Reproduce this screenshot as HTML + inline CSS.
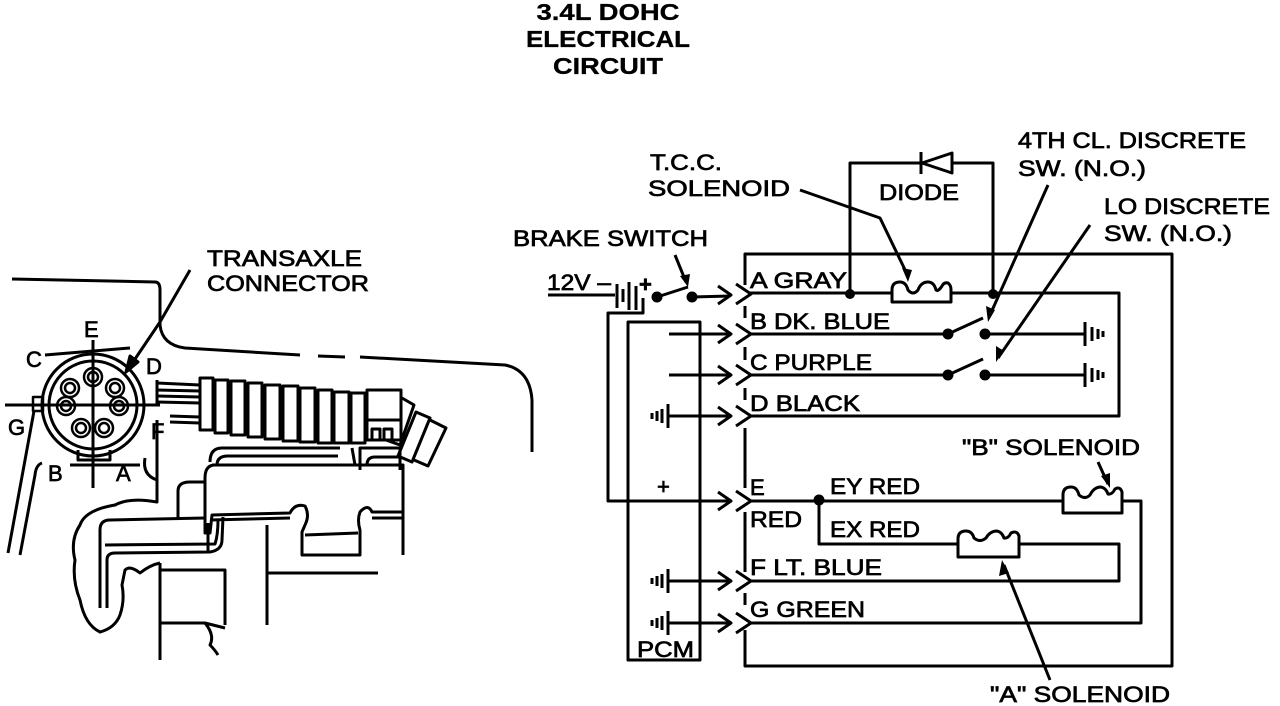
<!DOCTYPE html>
<html><head><meta charset="utf-8"><style>
html,body{margin:0;padding:0;background:#fff;}
svg{display:block;}
text{font-family:"Liberation Sans",sans-serif;font-size:22px;fill:#000;stroke:#000;stroke-width:0.7;}
.t{font-weight:bold;font-size:23px;stroke-width:0.3;}
</style></head><body>
<svg width="1280" height="706" viewBox="0 0 1280 706" xmlns="http://www.w3.org/2000/svg">
<g fill="none" stroke="#000" stroke-width="3" stroke-linejoin="round">
<path d="M12 279 L155 282 Q160 282 160 290 L160 325 Q162 345 185 348 L300 355"/>
<path d="M318 356 L345 357 M360 357 L505 365 Q530 370 532 400 L532 452"/>
<path d="M190 270 L160 322"/>
<path d="M160 322 L133 362"/>
<polygon points="126,372 130,356 138,362" fill="#000"/>
<circle cx="93" cy="405" r="51"/>
<circle cx="93" cy="405" r="44"/>
<path d="M45 355 L130 348"/>
<path d="M78 450 L78 460 L110 460 L110 450"/>
<line x1="93" y1="340" x2="93" y2="488"/>
<line x1="5" y1="405" x2="160" y2="405"/>
<line x1="70" y1="465" x2="140" y2="465"/>
<rect x="33" y="397" width="10" height="14" stroke-width="2.5"/>
<line x1="34" y1="411" x2="8" y2="553"/>
<path d="M42 463 Q36 465 35 475 L20 555"/>
<g stroke-width="2.5">
<circle cx="93" cy="377" r="9"/><circle cx="93" cy="377" r="5"/>
<circle cx="70" cy="388" r="9"/><circle cx="70" cy="388" r="5"/>
<circle cx="115" cy="388" r="9"/><circle cx="115" cy="388" r="5"/>
<circle cx="66" cy="406" r="9"/><circle cx="66" cy="406" r="5"/>
<circle cx="119" cy="406" r="9"/><circle cx="119" cy="406" r="5"/>
<circle cx="81" cy="428" r="9"/><circle cx="81" cy="428" r="5"/>
<circle cx="104" cy="428" r="9"/><circle cx="104" cy="428" r="5"/>
</g>
<line x1="89" y1="405" x2="97" y2="405" stroke-width="2"/>
<line x1="93" y1="401" x2="93" y2="409" stroke-width="2"/>
<line x1="157" y1="380" x2="157" y2="405"/>
<path d="M157 383 L200 385 M157 390 L200 391 M157 396 L200 397 M157 402 L200 403 M170 416 L200 417 M170 422 L200 423"/>
<rect x="200" y="378" width="13" height="52"/>
<rect x="215" y="380" width="13" height="53"/>
<rect x="231" y="381" width="14" height="54"/>
<rect x="248" y="383" width="14" height="54"/>
<rect x="265" y="385" width="15" height="54"/>
<rect x="283" y="386" width="15" height="55"/>
<rect x="300" y="388" width="15" height="54"/>
<rect x="318" y="390" width="14" height="53"/>
<rect x="334" y="392" width="15" height="51"/>
<rect x="351" y="393" width="14" height="50"/>
<rect x="367" y="390" width="34" height="30"/>
<path d="M367 420 L367 440 L401 440 L401 420"/>
<rect x="372" y="429" width="8" height="11"/><rect x="384" y="429" width="8" height="11"/>
<path d="M402 398 L414 405 L400 445 L386 440"/>
<path d="M416 412 L430 418 L412 462 L398 456 Z"/>
<path d="M430 420 L446 428 L428 466 L414 460"/>
<path d="M210 462 Q210 448 222 448 L340 448 M352 448 L355 465"/>
<path d="M217 465 Q217 456 228 456 L338 456"/>
<path d="M360 470 L360 448 L400 448 L400 470"/>
<path d="M367 465 Q367 457 375 457 L400 457"/>
<path d="M212 465 L403 465 L403 555"/>
<path d="M205 478 Q205 465 215 465"/>
<path d="M205 478 L205 533 L210 533 L212 515 L290 513 Q295 503 305 506 Q310 515 305 525 L302 532 L302 555 L360 555 L360 530 Q357 520 360 512 Q368 503 372 512 L403 512"/>
<path d="M210 520 L290 518 M305 535 L358 533 M372 518 L403 518"/>
<path d="M178 491 Q178 482 190 482 L205 482 M178 491 L178 518"/>
<path d="M205 518 L110 520 Q100 520 100 530 L100 608"/>
<path d="M107 608 L107 560 Q107 553 115 553 L210 552 Q222 550 222 540 L223 517"/>
<path d="M105 545 L215 544 Q218 535 218 520"/>
<path d="M157 420 L157 502 Q130 497 115 505 Q85 510 80 525 Q70 540 75 560 Q72 580 80 600 Q85 625 100 632 Q115 628 120 615 Q125 600 122 585 L125 570 Q130 565 140 573 Q150 565 160 563"/>
<path d="M145 458 Q142 475 157 480"/>
<path d="M160 563 L160 660 M160 570 L225 570 L225 625 M160 623 L205 623 Q215 635 210 645 Q215 650 218 655 M205 623 L225 628"/>
<path d="M267 525 L267 625 M267 573 L378 573"/>
<path d="M208 523 L208 552"/>
<path d="M745 285 L745 254 L1172 254 L1172 666 L745 666 L745 630"/>
<line x1="745" y1="428" x2="745" y2="488"/>
<line x1="745" y1="512" x2="745" y2="572"/>
<line x1="745" y1="306" x2="745" y2="318"/>
<line x1="745" y1="347" x2="745" y2="360"/>
<line x1="745" y1="388" x2="745" y2="400"/>
<line x1="745" y1="593" x2="745" y2="605"/>
<path d="M750 293 L893 293 M950 293 L1119 293 L1119 416 L750 416"/>
<path d="M850 293 L850 163 L993 163 L993 293"/>
<path d="M910 163 L950 163"/>
<polygon points="952,153 952,173 922,163" fill="#fff"/>
<line x1="921" y1="152" x2="921" y2="174"/>
<path d="M892 302 L892 290 Q892 282 900 282 Q906 282 908 290 Q913 296 918 290 Q921 282 928 282 Q934 282 936 290 Q938 292 942 286 Q944 282 948 283 Q951 285 951 290 L951 302 Z"/>
<path d="M750 334 L948 334 M948 334 L983 318 M985 334 L1085 334"/>
<path d="M750 375 L948 375 M948 375 L983 359 M985 375 L1085 375"/>
<path d="M1085 322 L1085 346 M1092 327 L1092 341 M1098 329 L1098 339 M1103 331 L1103 337"/>
<path d="M1085 363 L1085 387 M1092 368 L1092 382 M1098 370 L1098 380 M1103 372 L1103 378"/>
<path d="M750 501 L1063 501 M1122 501 L1141 501 L1141 623 L750 623"/>
<path d="M819 501 L819 544 L958 544 M1019 544 L1119 544 L1119 581 L750 581"/>
<path d="M1063 513 L1063 495 Q1063 487 1071 487 Q1077 487 1079 495 Q1085 500 1090 495 Q1094 487 1101 487 Q1106 488 1108 494 Q1112 495 1115 489 Q1120 486 1122 492 L1122 513 Z"/>
<path d="M958 557 L958 539 Q958 531 966 531 Q972 531 974 538 Q980 543 986 538 Q990 531 997 531 Q1002 532 1004 538 Q1008 539 1011 533 Q1017 530 1019 536 L1019 557 Z"/>
<path d="M548 295 L615 295"/>
<path d="M617 284 L617 308 M623 289 L623 302 M629 282 L629 310 M636 286 L636 310"/>
<path d="M643 298 L643 313 L608 313 L608 501 L730 501"/>
<path d="M657 297 L688 287 M692 297 L730 296"/>
<rect x="628" y="322" width="72" height="338"/>
<path d="M669 334 L730 334 M669 375 L730 375 M668 416 L730 416 M668 581 L730 581 M668 623 L730 623"/>
<path d="M668 404 L668 428 M662 409 L662 423 M657 411 L657 421 M652 413 L652 419"/>
<path d="M668 569 L668 593 M662 574 L662 588 M657 576 L657 586 M652 578 L652 584"/>
<path d="M668 611 L668 635 M662 616 L662 630 M657 618 L657 628 M652 620 L652 626"/>
<g>
<path d="M718 286 L731 295 L718 304"/>
<path d="M718 325 L731 334 L718 343"/>
<path d="M718 366 L731 375 L718 384"/>
<path d="M718 407 L731 416 L718 425"/>
<path d="M718 492 L731 501 L718 510"/>
<path d="M718 572 L731 581 L718 590"/>
<path d="M718 614 L731 623 L718 632"/>
</g>
<g>
<path d="M736 284 L751 294 L736 304"/>
<path d="M736 324 L751 334 L736 344"/>
<path d="M736 365 L751 375 L736 385"/>
<path d="M736 406 L751 416 L736 426"/>
<path d="M736 491 L751 501 L736 511"/>
<path d="M736 571 L751 581 L736 591"/>
<path d="M736 613 L751 623 L736 633"/>
</g>
<path d="M800 190 L880 218 L908 276"/>
<path d="M675 255 L686 282"/>
<path d="M1048 185 L990 315"/>
<path d="M1090 225 L998 358"/>
<path d="M1098 462 L1108 484"/>
<path d="M1050 680 L1004 565"/>
</g>
<g fill="#000">
<circle cx="850" cy="294" r="5"/><circle cx="993" cy="294" r="5"/>
<circle cx="948" cy="334" r="5.5"/><circle cx="985" cy="334" r="5.5"/>
<circle cx="948" cy="375" r="5.5"/><circle cx="985" cy="375" r="5.5"/>
<circle cx="819" cy="500" r="5.5"/>
<circle cx="657" cy="297" r="5.5"/><circle cx="692" cy="297" r="5.5"/>
<polygon points="908,282 902,268 912,270"/>
<polygon points="688,287 680,276 690,274"/>
<polygon points="988,322 986,306 995,310"/>
<polygon points="996,362 996,346 1004,351"/>
<polygon points="1110,488 1101,476 1110,473"/>
<polygon points="1002,560 999,576 1009,573"/>
</g>
<text class="t" x="608" y="20" text-anchor="middle" textLength="143" lengthAdjust="spacingAndGlyphs">3.4L DOHC</text>
<text class="t" x="608" y="47" text-anchor="middle" textLength="164" lengthAdjust="spacingAndGlyphs">ELECTRICAL</text>
<text class="t" x="608" y="74" text-anchor="middle" textLength="110" lengthAdjust="spacingAndGlyphs">CIRCUIT</text>
<text x="207" y="266" textLength="155" lengthAdjust="spacingAndGlyphs">TRANSAXLE</text>
<text x="207" y="291" textLength="162" lengthAdjust="spacingAndGlyphs">CONNECTOR</text>
<text x="84" y="337">E</text>
<text x="26" y="367">C</text>
<text x="146" y="374">D</text>
<text x="8" y="435">G</text>
<text x="151" y="439">F</text>
<text x="48" y="481">B</text>
<text x="116" y="481">A</text>
<text x="650" y="170" textLength="72" lengthAdjust="spacingAndGlyphs">T.C.C.</text>
<text x="648" y="196" textLength="142" lengthAdjust="spacingAndGlyphs">SOLENOID</text>
<text x="879" y="200" textLength="80" lengthAdjust="spacingAndGlyphs">DIODE</text>
<text x="1018" y="148" textLength="228" lengthAdjust="spacingAndGlyphs">4TH CL. DISCRETE</text>
<text x="1018" y="176" textLength="128" lengthAdjust="spacingAndGlyphs">SW. (N.O.)</text>
<text x="1104" y="214" textLength="166" lengthAdjust="spacingAndGlyphs">LO DISCRETE</text>
<text x="1104" y="241" textLength="128" lengthAdjust="spacingAndGlyphs">SW. (N.O.)</text>
<text x="513" y="246" textLength="195" lengthAdjust="spacingAndGlyphs">BRAKE SWITCH</text>
<text x="547" y="290" textLength="64" lengthAdjust="spacingAndGlyphs">12V –</text>
<text x="639" y="292" style="font-weight:bold">+</text>
<text x="750" y="288" textLength="97" lengthAdjust="spacingAndGlyphs">A GRAY</text>
<text x="750" y="329" textLength="140" lengthAdjust="spacingAndGlyphs">B DK. BLUE</text>
<text x="750" y="370" textLength="122" lengthAdjust="spacingAndGlyphs">C PURPLE</text>
<text x="750" y="411" textLength="110" lengthAdjust="spacingAndGlyphs">D BLACK</text>
<text x="750" y="495">E</text>
<text x="750" y="527" textLength="52" lengthAdjust="spacingAndGlyphs">RED</text>
<text x="830" y="494" textLength="90" lengthAdjust="spacingAndGlyphs">EY RED</text>
<text x="830" y="537" textLength="90" lengthAdjust="spacingAndGlyphs">EX RED</text>
<text x="750" y="575" textLength="132" lengthAdjust="spacingAndGlyphs">F LT. BLUE</text>
<text x="750" y="617" textLength="115" lengthAdjust="spacingAndGlyphs">G GREEN</text>
<text x="962" y="455" textLength="178" lengthAdjust="spacingAndGlyphs">"B" SOLENOID</text>
<text x="990" y="702" textLength="180" lengthAdjust="spacingAndGlyphs">"A" SOLENOID</text>
<text x="637" y="657" textLength="57" lengthAdjust="spacingAndGlyphs">PCM</text>
<text x="657" y="494">+</text>
</svg>
</body></html>
